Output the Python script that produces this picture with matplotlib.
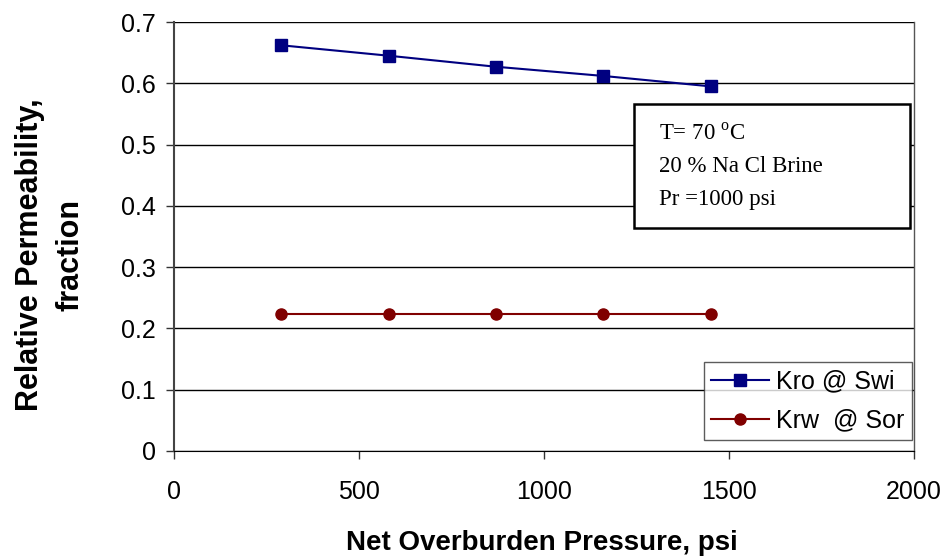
import matplotlib
matplotlib.use("Agg")
import matplotlib.pyplot as plt
from matplotlib.patches import Rectangle

pressure = [290, 580, 870, 1160, 1450]
kro_swi = [0.662, 0.645, 0.627, 0.612, 0.595]
krw_sor = [0.224, 0.224, 0.224, 0.224, 0.224]
x_ticks = [0, 500, 1000, 1500, 2000]
y_ticks = [0, 0.1, 0.2, 0.3, 0.4, 0.5, 0.6, 0.7]

plt.rcParams['font.family'] = ['Liberation Sans', 'DejaVu Sans']
plt.rcParams['mathtext.fontset'] = 'custom'
plt.rcParams['mathtext.rm'] = 'Liberation Serif'

W, H = 948, 558
fig = plt.figure(figsize=(W/100, H/100), dpi=100)
ax = fig.add_axes([174/W, 1-451/H, (914-174)/W, (451-22)/H])

ax.plot(pressure, kro_swi, color='#000080', marker='s', markersize=9, linewidth=1.5,
        label='Kro @ Swi')
ax.plot(pressure, krw_sor, color='#800000', marker='o', markersize=8, linewidth=1.5,
        label='Krw  @ Sor')

ax.set_xlim(0, 2000)
ax.set_ylim(0, 0.7)
ax.set_xticks(x_ticks)
ax.set_yticks(y_ticks)
ax.set_yticklabels(['0' if v == 0 else f'{v:.1f}' for v in y_ticks])
ax.tick_params(axis='both', labelsize=18, direction='out', length=6, width=1, color='#333333')
ax.tick_params(axis='x', pad=15)
ax.tick_params(axis='y', pad=7)
ax.yaxis.grid(True, color='black', linewidth=1)
ax.set_axisbelow(True)
ax.spines['top'].set_visible(False)
ax.spines['left'].set_color('#444444')
ax.spines['left'].set_linewidth(1.5)
ax.spines['right'].set_color('#555555')
ax.spines['right'].set_linewidth(1.0)
ax.spines['bottom'].set_color('black')

fig.text(542/W, 1-550/H, 'Net Overburden Pressure, psi', fontsize=20, fontweight='bold',
         ha='center', va='baseline')
fig.text(50/W, 1-255/H, 'Relative Permeability,\nfraction', fontsize=22, fontweight='bold',
         ha='center', va='center', rotation=90, multialignment='center', linespacing=1.45)

leg = ax.legend(loc='lower right', bbox_to_anchor=(912/W, 1-440/H),
                bbox_transform=fig.transFigure, borderaxespad=0,
                fontsize=18, frameon=True, fancybox=False, edgecolor='#333333',
                handlelength=2.3, handletextpad=0.3, borderpad=0.3, labelspacing=0.6)
leg.get_frame().set_linewidth(1.0)

fig.patches.append(Rectangle((634/W, 1-228/H), (910-634)/W, (228-104)/H,
                             transform=fig.transFigure, facecolor='white',
                             edgecolor='black', linewidth=1.8, zorder=5))
box_lines = ['T= 70 $^{\\rm o}$C', '20 % Na Cl Brine', 'Pr =1000 psi']
for i, line in enumerate(box_lines):
    fig.text(659/W, 1-(140+32.5*i)/H, line, fontsize=16.5, family='Liberation Serif',
             ha='left', va='baseline', zorder=6)

fig.savefig('out.png', dpi=100)
